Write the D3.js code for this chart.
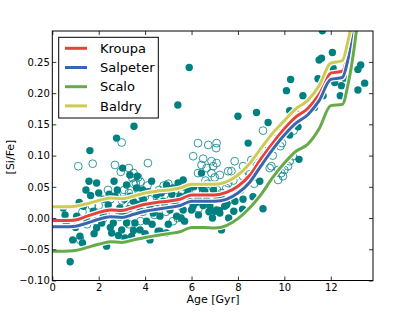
<!DOCTYPE html>
<html>
<head>
<meta charset="utf-8">
<script src="https://cdn.jsdelivr.net/npm/d3@7"></script>
<style>
  body { margin: 0; background: #fff; }
  svg { font-family: "DejaVu Sans", sans-serif; }
</style>
</head>
<body>
<script>
// model tracks, sampled by eye off the figure
var ages = [0, 0.5, 1, 1.5, 2, 2.5, 3, 3.5, 4, 4.5, 5, 5.5, 6, 6.5, 7, 7.5, 8, 8.5, 9, 9.5, 10, 10.5, 11, 11.5, 12, 12.5, 12.75, 13.0, 13.2];
var kroupa   = [-0.004, -0.004, -0.003, 0.003, 0.009, 0.013, 0.012, 0.017, 0.022, 0.025, 0.027, 0.030, 0.037, 0.037, 0.037, 0.041, 0.051, 0.068, 0.095, 0.120, 0.143, 0.162, 0.175, 0.198, 0.232, 0.235, 0.265, 0.31, 0.36];
var salpeter = [-0.014, -0.014, -0.013, -0.008, -0.002, 0.002, 0.001, 0.006, 0.011, 0.014, 0.017, 0.020, 0.027, 0.027, 0.027, 0.030, 0.040, 0.057, 0.084, 0.110, 0.133, 0.152, 0.165, 0.188, 0.222, 0.225, 0.255, 0.30, 0.35];
var scalo    = [-0.053, -0.053, -0.052, -0.047, -0.042, -0.038, -0.039, -0.035, -0.031, -0.028, -0.025, -0.022, -0.015, -0.015, -0.016, -0.012, -0.001, 0.016, 0.038, 0.065, 0.088, 0.107, 0.118, 0.143, 0.180, 0.182, 0.215, 0.27, 0.33];
var baldry   = [0.018, 0.018, 0.019, 0.023, 0.028, 0.032, 0.031, 0.035, 0.040, 0.043, 0.045, 0.048, 0.054, 0.054, 0.054, 0.058, 0.069, 0.087, 0.112, 0.136, 0.156, 0.175, 0.188, 0.212, 0.248, 0.252, 0.285, 0.33, 0.38];

var seriesNames = ["Kroupa", "Salpeter", "Scalo", "Baldry"];
var seriesColors = ["#e8413b", "#3a65b0", "#66aa4a", "#cccc55"];

// stars: [age, [Si/Fe]]
var filledStars = [
  [0.77,-0.070],[2.34,-0.045],[1.62,0.108],[2.77,0.128],[3.52,0.147],[5.41,0.181],[5.90,0.241],
  [8.0,0.163],[8.8,0.169],[8.44,0.120],[9.3,0.153],[10.27,0.222],[10.09,0.204],[10.23,0.172],[10.23,0.133],
  [10.59,0.146],[10.8,0.196],[10.63,0.094],[9.08,0.015],[8.94,0.059],[8.65,0.034],[8.2,0.014],[8.22,0.030],
  [7.82,0.011],[7.87,0.027],[7.53,0.023],[7.2,0.012],[7.29,-0.019],
  [12.07,0.265],[11.5,0.253],[11.6,0.256],[11.45,0.223],[11.67,0.196],[12.46,0.212],[12.41,0.196],[12.6,0.224],
  [13.29,0.245],[13.17,0.238],[13.17,0.205],[13.46,0.216],[12.17,0.217],[12.1,0.240],[11.64,0.30],[11.3,0.177],
  [1.58,0.059],[1.91,0.056],[2.66,0.059],[1.65,0.036],[1.16,0.025],[0.55,0.005],[0.88,-0.035],[1.19,-0.029],
  [3.03,0.080],[3.34,0.069],[3.66,0.067],[4.28,0.059],[3.2,0.053],[2.7,0.035],[3.63,0.048],[4.49,0.037],
  [4.92,0.053],[5.42,0.056],[5.79,0.037],[6.07,0.019],[6.0,0.013],[6.43,0.072],[6.65,0.029],[6.79,0.019],
  [7.08,0.013],[7.5,0.021],[4.64,-0.021],[4.06,-0.005],[3.78,-0.019],[3.42,-0.029],[3.13,-0.032],[2.99,-0.019],
  [2.63,-0.008],[2.56,-0.024],[1.91,-0.016],[1.48,-0.003],[1.05,0.003],[1.77,0.011],[2.2,0.005],[2.41,0.021],
  [2.91,0.016],[3.49,0.027],[3.78,0.011],[4.21,0.019],[4.64,0.003],[5.07,0.013],[5.36,0.003],[5.64,0.013],
  [6.29,0.032],[6.57,0.043],[7.08,0.035],[7.22,0.008],[4.21,-0.035],[4.92,-0.024],[1.34,0.019],[3.2,0.003],
  [3.92,0.029],[4.78,0.027],[5.93,0.027],[3.2,-0.008],[3.56,-0.008],[2.13,-0.008],[0.47,0.016],
  [4.56,-0.021],[7.22,0.037],[7.43,0.019],[7.0,0.011],[5.64,0.061],
  [2.2,0.03],[2.5,-0.015],[3.0,0.005],[3.3,0.015],[3.5,-0.02],[3.9,0.045],[4.3,-0.01],[4.5,0.025],
  [4.7,0.04],[5.0,-0.01],[5.2,0.048],[5.5,0.035],[5.7,-0.005],[6.1,0.05],[6.3,0.005],[6.5,0.02],
  [6.9,0.0],[7.3,0.03],[7.6,0.0],[1.0,-0.015],[1.3,-0.04],[0.6,-0.01],[2.8,0.045],[4.0,-0.025],[4.9,0.045],
  [2.45,0.038],[2.85,-0.028],[3.35,0.035],[3.65,0.022],[4.15,0.042],[4.35,0.008],[4.85,0.018],[5.15,0.038],
  [5.3,0.022],[5.55,0.0],[5.85,0.045],[6.2,0.025],[6.45,0.048],[6.75,0.01],[6.95,0.045],[1.45,0.045],
  [1.8,-0.025],[2.0,0.04],[3.1,0.03],[3.85,0.035]
];
var openStars = [
  [1.12,0.083],[1.74,0.087],[2.7,0.085],[2.99,0.121],[3.3,0.080],[4.12,0.088],[3.5,0.072],[3.7,0.065],
  [3.45,0.064],[3.6,0.056],[3.8,0.058],[2.95,0.074],
  [6.28,0.120],[6.72,0.117],[7.08,0.120],[7.06,0.112],[6.07,0.099],[6.5,0.095],[6.86,0.091],[6.43,0.085],
  [7.08,0.088],[6.93,0.083],[6.65,0.080],[6.28,0.072],[6.86,0.072],[7.22,0.069],[7.58,0.075],
  [9.08,0.140],[9.08,0.108],[8.58,0.093],[7.86,0.091],[8.22,0.083],[8.8,0.088],[9.37,0.080],[9.73,0.077],
  [9.94,0.067],[10.16,0.083],[10.23,0.091],[9.73,0.061],[10.52,0.166],[7.72,0.075],[8.22,0.067],[7.58,0.056],
  [9.73,0.136],[9.87,0.072],[10.0,0.077],[9.44,0.083],[9.83,0.115],[10.37,0.099],
  [1.3,0.01],[1.5,-0.01],[1.2,-0.035],[1.7,0.02],[2.0,0.02],[2.2,0.0],[2.5,0.03],[2.6,0.005],[2.8,0.035],
  [3.0,0.028],[3.1,0.045],[3.3,0.04],[3.4,0.02],[3.6,0.03],[3.7,0.045],[3.9,0.01],[4.0,0.035],[4.2,0.03],
  [4.4,0.015],[4.6,0.045],[4.8,0.052],[4.9,0.01],[5.0,0.055],[5.1,0.03],[5.3,0.045],[5.4,0.0],[5.5,0.02],
  [5.7,0.05],[5.8,0.03],[6.0,0.035],[6.2,0.045],[6.3,0.015],[6.5,0.04],[6.7,0.055],[6.9,0.05],[7.1,0.045],
  [7.3,0.04],[7.5,0.048],[7.7,0.03],[2.9,0.002],[3.3,-0.01],[3.8,-0.005],[4.4,0.005],[5.2,-0.005],[1.9,-0.005],
  [2.4,0.045],[3.5,0.055],[4.1,0.052],[5.6,0.04],[6.6,0.06],[7.0,0.065],[7.8,0.06],[8.1,0.045],[8.5,0.07],
  [8.7,0.055],[9.0,0.1],[9.5,0.1],[9.9,0.12],[10.4,0.14]
];

var xTicks = [0, 2, 4, 6, 8, 10, 12];
var yTicks = [-0.10, -0.05, 0.00, 0.05, 0.10, 0.15, 0.20, 0.25];

var W = 415, H = 312;
var margin = { top: 31, right: 42, bottom: 31.5, left: 52.3 };
var width = W - margin.left - margin.right,
    height = H - margin.top - margin.bottom;

var svg = d3.select("body").append("svg")
    .attr("width", W)
    .attr("height", H);

var g = svg.append("g")
    .attr("transform", "translate(" + margin.left + "," + margin.top + ")");

var x = d3.scaleLinear().domain([0, 13.82]).range([0, width]);
var y = d3.scaleLinear().domain([-0.10, 0.2995]).range([height, 0]);

g.append("clipPath").attr("id", "clip")
  .append("rect").attr("width", width).attr("height", height);

var plot = g.append("g").attr("clip-path", "url(#clip)");

var teal = "#008080";

plot.selectAll("circle.open")
    .data(openStars)
    .enter().append("circle")
      .attr("class", "open")
      .attr("cx", function(d) { return x(d[0]); })
      .attr("cy", function(d) { return y(d[1]); })
      .attr("r", 3.9)
      .attr("fill", "none")
      .attr("stroke", teal)
      .attr("stroke-width", 0.8);

plot.selectAll("circle.filled")
    .data(filledStars)
    .enter().append("circle")
      .attr("class", "filled")
      .attr("cx", function(d) { return x(d[0]); })
      .attr("cy", function(d) { return y(d[1]); })
      .attr("r", 3.7)
      .attr("fill", teal);

var line = d3.line()
    .x(function(d, i) { return x(ages[i]); })
    .y(function(d) { return y(d); })
    .curve(d3.curveMonotoneX);

var tracks = [kroupa, salpeter, scalo, baldry];
tracks.forEach(function(vals, i) {
  plot.append("path")
      .attr("d", line(vals))
      .attr("fill", "none")
      .attr("stroke", "#fff")
      .attr("stroke-width", 5.5)
      .attr("stroke-linejoin", "round");
  plot.append("path")
      .attr("d", line(vals))
      .attr("fill", "none")
      .attr("stroke", seriesColors[i])
      .attr("stroke-width", 3)
      .attr("stroke-linejoin", "round");
});

// axes, matplotlib style: ticks pointing inwards on all four sides
var fmt = d3.format(".2f");

var xAxis = g.append("g")
    .attr("transform", "translate(0," + height + ")")
    .call(d3.axisBottom(x).tickValues(xTicks).tickSizeInner(-4).tickSizeOuter(0).tickPadding(3));
var xTop = g.append("g")
    .call(d3.axisTop(x).tickValues(xTicks).tickSizeInner(-4).tickSizeOuter(0).tickFormat(""));
var yAxis = g.append("g")
    .call(d3.axisLeft(y).tickValues(yTicks).tickFormat(fmt).tickSizeInner(-4).tickSizeOuter(0).tickPadding(2.5));
var yRight = g.append("g")
    .attr("transform", "translate(" + width + ",0)")
    .call(d3.axisRight(y).tickValues(yTicks).tickSizeInner(-4).tickSizeOuter(0).tickFormat(""));

[xAxis, xTop, yAxis, yRight].forEach(function(a) {
  a.select(".domain").remove();
  a.selectAll("line").attr("stroke", "#000").attr("stroke-width", 0.8);
  a.selectAll("text")
    .attr("fill", "#000")
    .style("font-family", "DejaVu Sans")
    .style("font-size", "10px");
});

g.append("rect")
    .attr("width", width)
    .attr("height", height)
    .attr("fill", "none")
    .attr("stroke", "#000")
    .attr("stroke-width", 1);

svg.append("text")
    .attr("x", 213)
    .attr("y", 303)
    .attr("text-anchor", "middle")
    .style("font-size", "11px")
    .text("Age [Gyr]");

svg.append("text")
    .attr("transform", "translate(14,157) rotate(-90)")
    .attr("text-anchor", "middle")
    .style("font-size", "11px")
    .text("[Si/Fe]");

// legend
var legend = svg.append("g").attr("transform", "translate(58.7,37.3)");
legend.append("rect")
    .attr("width", 99.6)
    .attr("height", 80.7)
    .attr("fill", "#fff")
    .attr("stroke", "#000")
    .attr("stroke-width", 1);

seriesNames.forEach(function(name, i) {
  var cy = 11 + i * 19.2;
  legend.append("line")
      .attr("x1", 6.3).attr("x2", 28.3)
      .attr("y1", cy).attr("y2", cy)
      .attr("stroke", seriesColors[i])
      .attr("stroke-width", 3);
  legend.append("text")
      .attr("x", 41.3)
      .attr("y", cy + 4.7)
      .style("font-size", "13px")
      .text(name);
});
</script>
</body>
</html>
